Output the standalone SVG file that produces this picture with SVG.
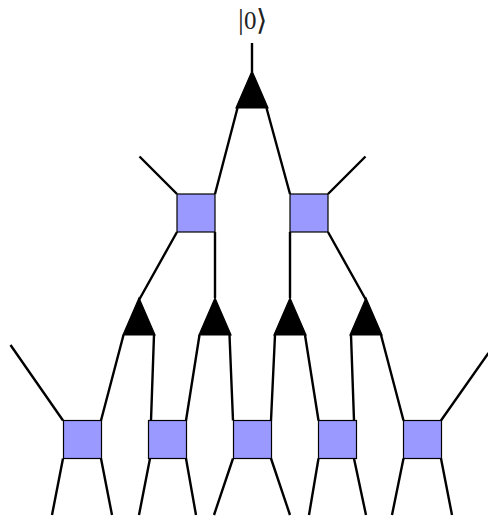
<svg xmlns="http://www.w3.org/2000/svg" width="488" height="516" viewBox="0 0 488 516">
<style>
.w{fill:none;stroke:#000;stroke-width:2.4;stroke-linecap:butt}
.s{fill:#9999ff;stroke:#000;stroke-width:1.2}
.t{fill:#000;stroke:#000;stroke-width:1.2;stroke-linejoin:miter}
text{font-family:"Liberation Serif","Noto Sans",serif;font-size:25px;fill:#222}
.b{font-size:29px}
.a{font-family:"DejaVu Sans",sans-serif;font-size:29px;font-weight:200}
</style>
<rect width="488" height="516" fill="#fff"/>
<g id="connectors">
<path class="w" d="M252 43V72"/>
<path class="w" d="M237.500 108L215 194M266.500 108L290 194"/>
<path class="w" d="M139.500 156.500L177 194M365.500 156.500L328 194"/>
<path class="w" d="M177 232L139 300M215 232V298M290 232V298M328 232L366 300"/>
<path class="w" d="M123.500 335L101 420.500M154 335L151 420.500M199.500 335L186 420.500M229.500 335L233 420.500M275 335L271 420.500M305 335L318.500 420.500M351 335L354 420.500M381 335L403.500 420.500"/>
<path class="w" d="M10.500 345L63 420.500M488.500 353L441 420.500"/>
<path class="w" d="M63 458.500L52 515M101 458.500L112 515M150 458.500L139 515M186 458.500L196 515M233 458.500L214 515M271 458.500L290 515M318.500 458.500L309 515M354 458.500L366 515M403.500 458.500L392 515M441 458.500L452 515"/>
</g>
<g id="state"><text y="29"><tspan class="b" x="238" y="29">|</tspan><tspan x="244" y="29">0</tspan><tspan class="a" x="256" y="30">⟩</tspan></text></g>
<g id="iso-top"><path class="t" d="M252 71L268 108H236Z"/></g>
<g id="u-top-left"><rect class="s" x="177" y="194" width="38" height="38"/></g>
<g id="u-top-right"><rect class="s" x="290" y="194" width="38" height="38"/></g>
<g id="iso-1"><path class="t" d="M139 298L155 335H123Z"/></g>
<g id="iso-2"><path class="t" d="M215 298L231 335H199Z"/></g>
<g id="iso-3"><path class="t" d="M290 298L306 335H274Z"/></g>
<g id="iso-4"><path class="t" d="M366 298L382 335H350Z"/></g>
<g id="u-1"><rect class="s" x="63.500" y="420.500" width="38" height="38"/></g>
<g id="u-2"><rect class="s" x="148.500" y="420.500" width="38" height="38"/></g>
<g id="u-3"><rect class="s" x="233.500" y="420.500" width="38" height="38"/></g>
<g id="u-4"><rect class="s" x="318.500" y="420.500" width="38" height="38"/></g>
<g id="u-5"><rect class="s" x="403.500" y="420.500" width="38" height="38"/></g>
</svg>
